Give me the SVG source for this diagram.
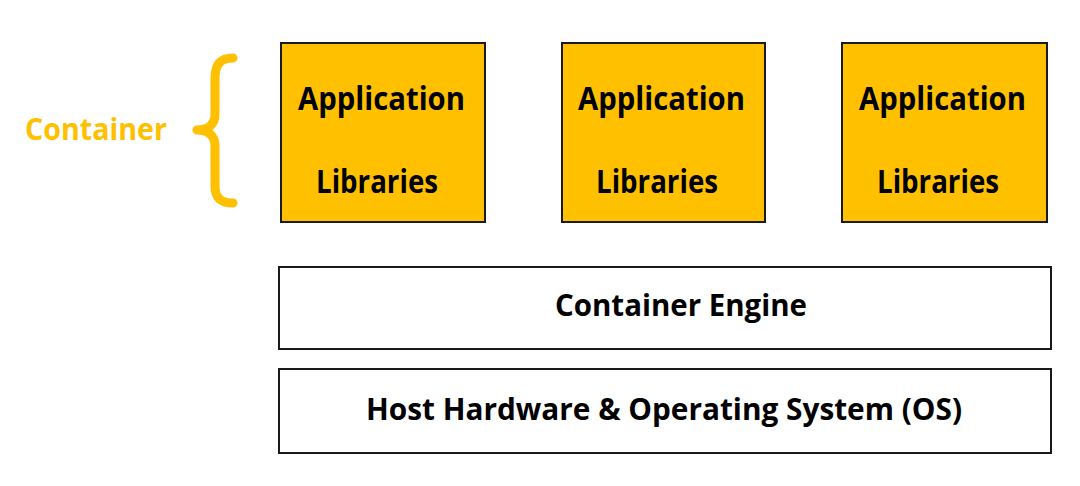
<svg xmlns="http://www.w3.org/2000/svg" width="1080" height="486" viewBox="0 0 1080 486">
<style>
.app{fill:#FFC000;stroke:#1a1a1a;stroke-width:2}
.layer{fill:#fff;stroke:#1a1a1a;stroke-width:2}
.t{font-family:"Open Sans","Liberation Sans",sans-serif;font-weight:bold;fill:#000}
.c{fill:#FFC000}
</style>
<rect width="1080" height="486" fill="#fff"/>
<g id="container-label">
<text class="t c" x="25" y="140" font-size="30" textLength="142" lengthAdjust="spacingAndGlyphs">Container</text>
<path d="M233,58 C221,58 215,64 215,78 L215,114 C215,124 209,130 197,130 C209,130 215,136 215,146 L215,186 C215,198 221,203 233,203" fill="none" stroke="#FFC000" stroke-width="9" stroke-linecap="round" stroke-linejoin="round"/>
</g>
<g id="app1">
<rect class="app" x="281" y="43" width="204" height="179"/>
<text class="t" x="298" y="110" font-size="33" textLength="167" lengthAdjust="spacingAndGlyphs">Application</text>
<text class="t" x="316" y="193" font-size="33" textLength="122" lengthAdjust="spacingAndGlyphs">Libraries</text>
</g>
<g id="app2">
<rect class="app" x="562" y="43" width="203" height="179"/>
<text class="t" x="578" y="110" font-size="33" textLength="167" lengthAdjust="spacingAndGlyphs">Application</text>
<text class="t" x="596" y="193" font-size="33" textLength="122" lengthAdjust="spacingAndGlyphs">Libraries</text>
</g>
<g id="app3">
<rect class="app" x="842" y="43" width="205" height="179"/>
<text class="t" x="859" y="110" font-size="33" textLength="167" lengthAdjust="spacingAndGlyphs">Application</text>
<text class="t" x="877" y="193" font-size="33" textLength="122" lengthAdjust="spacingAndGlyphs">Libraries</text>
</g>
<g id="engine">
<rect class="layer" x="279" y="267" width="772" height="82"/>
<text class="t" x="555" y="316" font-size="31" textLength="252" lengthAdjust="spacingAndGlyphs">Container Engine</text>
</g>
<g id="host">
<rect class="layer" x="279" y="369" width="772" height="84"/>
<text class="t" x="366" y="420" font-size="31" textLength="596" lengthAdjust="spacingAndGlyphs">Host Hardware &amp; Operating System (OS)</text>
</g>
<g id="connectors"/>
</svg>
